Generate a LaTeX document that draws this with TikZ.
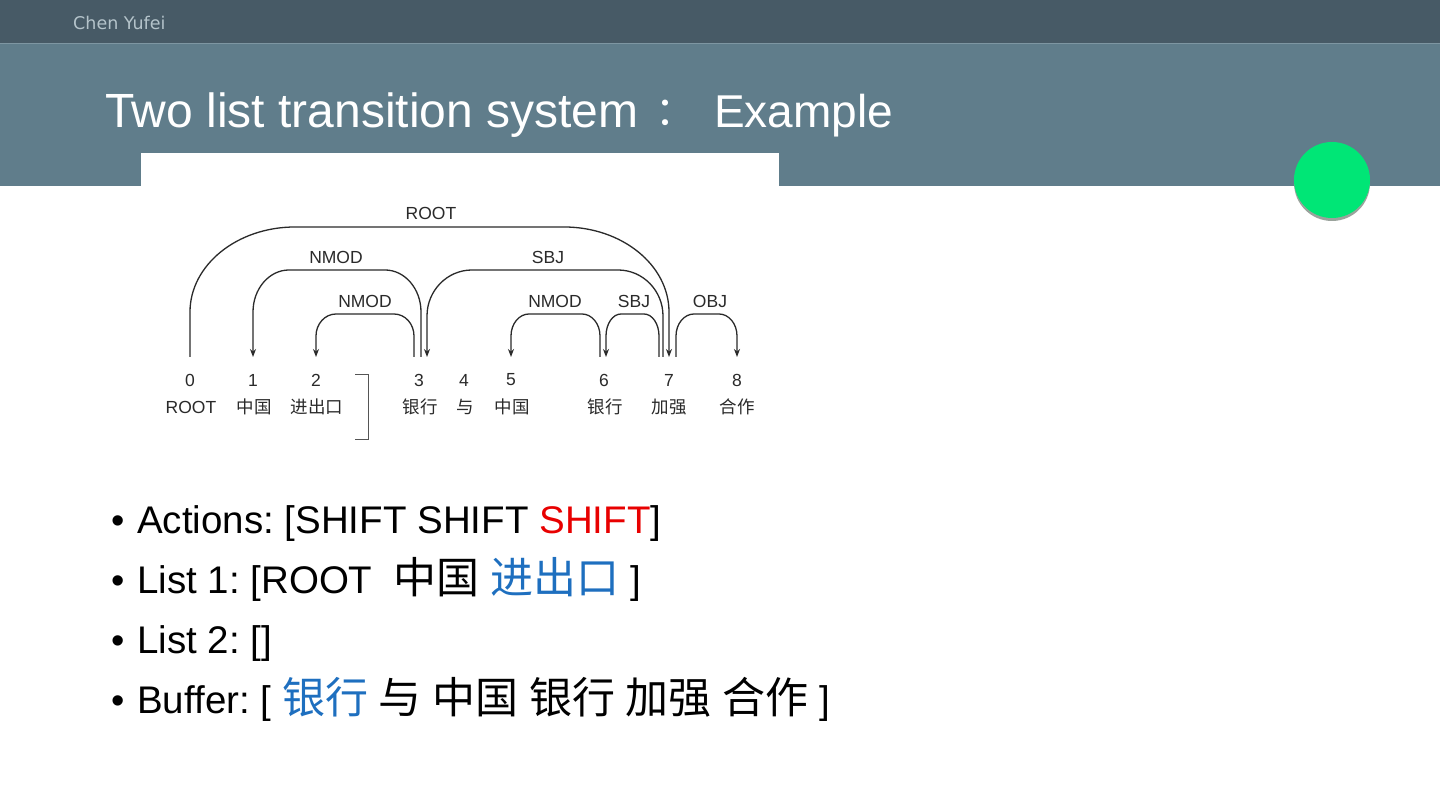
\documentclass[tikz,border=0pt]{standalone}
\usepackage{fontspec}
\setmainfont{Liberation Sans}
\newfontfamily\cjk{Noto Sans CJK SC}
\newfontfamily\hdrfont{DejaVu Sans}
\usetikzlibrary{arrows.meta,calc}
\frenchspacing
\definecolor{topbar}{HTML}{475A66}
\definecolor{band}{HTML}{607D8B}
\definecolor{sepline}{HTML}{7E96A2}
\definecolor{hdrtext}{HTML}{B4C3CA}
\definecolor{greenc}{HTML}{00E676}
\definecolor{shadowc}{HTML}{9AA39C}
\definecolor{dgray}{HTML}{2A2A2A}
\definecolor{blue1}{HTML}{1E6FBF}
\definecolor{red1}{RGB}{232,0,0}
\newcommand\zh[1]{{\cjk\fontsize{43}{48}\selectfont #1}}
\newcommand\zs[1]{{\cjk\fontsize{17.5}{20}\selectfont #1}}
\tikzset{
  dep/.style={draw=dgray, line width=1.3pt},
  arr/.style={-{Stealth[length=8pt,width=6pt]}},
  deparc/.style n args={3}{to path={let \p1=(\tikztostart), \p2=(\tikztotarget), \n1={sign(\x2-\x1)} in
     -- (\x1,#1pt-#3pt)
     .. controls (\x1,#1pt-0.448*#3pt) and (\x1+0.448*\n1*#2pt,#1pt) .. (\x1+\n1*#2pt,#1pt)
     -- (\x2-\n1*#2pt,#1pt)
     .. controls (\x2-0.448*\n1*#2pt,#1pt) and (\x2,#1pt-0.448*#3pt) .. (\x2,#1pt-#3pt)
     -- (\tikztotarget)}},
  lbl/.style={inner sep=0pt, text=dgray, font=\fontsize{17.5}{20}\selectfont},
  num/.style={inner sep=0pt, text=dgray, font=\fontsize{17.5}{20}\selectfont},
  word/.style={inner sep=0pt, text=dgray, font=\fontsize{17.5}{20}\selectfont},
  bt/.style={inner sep=0pt, anchor=base west, text=black, font=\fontsize{38.5}{46}\selectfont},
  bul/.style={inner sep=0pt, anchor=base, text=black, font=\fontsize{38}{46}\selectfont},
}
\begin{document}
\begin{tikzpicture}[x=1pt,y=1pt]
\useasboundingbox (0,0) rectangle (1440,810);
\fill[white] (0,0) rectangle (1440,810);
% header
\fill[band] (0,624) rectangle (1440,766);
\fill[topbar] (0,766) rectangle (1440,810);
\draw[sepline, line width=1pt] (0,766) -- (1440,766);
\node[inner sep=0pt, anchor=base west, text=hdrtext, font=\hdrfont\fontsize{17.5}{20}\selectfont] (author) at (73,780) {Chen Yufei};
\node[inner sep=0pt, anchor=base west, text=white, font=\fontsize{48}{56}\selectfont] (title) at (105,682) {Two list transition system};
\node[inner sep=0pt, anchor=base, text=white, font=\cjk\fontsize{40}{50}\selectfont] (colon) at (675,684) {：};
\node[inner sep=0pt, anchor=base west, text=white, font=\fontsize{46}{56}\selectfont] (ex) at (714,682) {Example};
\fill[white] (141,624) rectangle (779,657);
% green circle
\fill[shadowc] (1332,627) circle (38);
\fill[greenc] (1332,630) circle (38);
% dependency diagram: numbers and words
\foreach \i/\x in {0/190,1/253,2/316,3/419,4/464,5/511,6/604,7/669,8/737}{
  \node[num] (n\i) at (\x,430) {\i};
}
\node[word] (w0) at (191,403) {ROOT};
\node[word] (w1) at (254,403) {\zs{中国}};
\node[word] (w2) at (317,403) {\zs{进出口}};
\node[word] (w3) at (420,403) {\zs{银行}};
\node[word] (w4) at (465,403) {\zs{与}};
\node[word] (w5) at (512,403) {\zs{中国}};
\node[word] (w6) at (605,403) {\zs{银行}};
\node[word] (w7) at (669,403) {\zs{加强}};
\node[word] (w8) at (737,403) {\zs{合作}};
% bracket
\coordinate (bk1) at (355,436);
\coordinate (bk2) at (355,371);
\draw[draw=dgray!80, line width=0.9pt] (bk1) -- ++(13,0) -- ++(0,-65) -- (bk2);
% arc end points
\coordinate (p0) at (190,453);
\coordinate (p1) at (253,453);
\coordinate (p2) at (316,453);
\coordinate (p3a) at (414,453);
\coordinate (p3b) at (421,453);
\coordinate (p3c) at (427,453);
\coordinate (p5) at (511,453);
\coordinate (p6a) at (600,453);
\coordinate (p6b) at (606,453);
\coordinate (p7a) at (659,453);
\coordinate (p7b) at (663,453);
\coordinate (p7c) at (669,453);
\coordinate (p7d) at (676,453);
\coordinate (p8) at (737,453);
% arcs
\draw[dep, arr] (p0) to[deparc={583}{105}{85}] (p7c);
\draw[dep, arr] (p3b) to[deparc={540}{36}{42}] (p1);
\draw[dep, arr] (p7b) to[deparc={540}{45}{46}] (p3c);
\draw[dep, arr] (p3a) to[deparc={496}{20}{22}] (p2);
\draw[dep, arr] (p6a) to[deparc={496}{18}{22}] (p5);
\draw[dep, arr] (p7a) to[deparc={496}{15}{22}] (p6b);
\draw[dep, arr] (p7d) to[deparc={496}{18}{22}] (p8);
% labels
\node[lbl] (lroot) at (431,597) {ROOT};
\node[lbl] (lnmod1) at (336,553) {NMOD};
\node[lbl] (lsbj1) at (548,553) {SBJ};
\node[lbl] (lnmod2) at (365,509) {NMOD};
\node[lbl] (lnmod3) at (555,509) {NMOD};
\node[lbl] (lsbj2) at (634,509) {SBJ};
\node[lbl] (lobj) at (710,509) {OBJ};
% bullets
\node[bul] (d1) at (118,276) {•};
\node[bul] (d2) at (118,216) {•};
\node[bul] (d3) at (118,156) {•};
\node[bul] (d4) at (118,96) {•};
\node[bt] (b1) at (137,276) {Actions: [SHIFT SHIFT \textcolor{red1}{SHIFT}]};
\node[bt] (b2) at (137,216) {List 1: [ROOT\ \ \zh{中国} \zh{\color{blue1}进出口} ]};
\node[bt] (b3) at (137,156) {List 2: []};
\node[bt] (b4) at (137,96) {Buffer: [ \zh{\color{blue1}银行} \zh{与} \zh{中国} \zh{银行} \zh{加强} \zh{合作} ]};
\end{tikzpicture}
\end{document}
